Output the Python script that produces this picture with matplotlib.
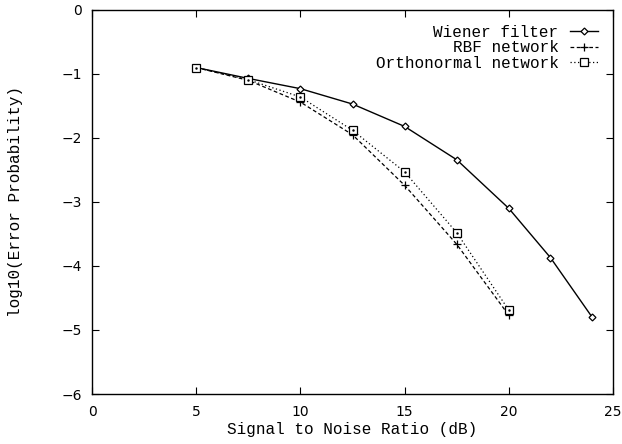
import matplotlib
matplotlib.use('Agg')
import matplotlib.pyplot as plt

# SNR (dB) values and log10 error probabilities
snr_wiener = [5, 7.5, 10, 12.5, 15, 17.5, 20, 22, 24]
err_wiener = [-0.90, -1.07, -1.23, -1.47, -1.82, -2.34, -3.10, -3.87, -4.80]

snr_net = [5, 7.5, 10, 12.5, 15, 17.5, 20]
err_rbf = [-0.90, -1.10, -1.44, -1.95, -2.74, -3.66, -4.77]
err_ortho = [-0.90, -1.09, -1.36, -1.88, -2.53, -3.48, -4.69]

x_ticks = [0, 5, 10, 15, 20, 25]
y_ticks = [0, -1, -2, -3, -4, -5, -6]

mono = 'Liberation Mono'

fig = plt.figure(figsize=(6.22, 4.44), dpi=100)
ax = fig.add_axes([0.148, 0.1126, 0.8375, 0.865])

ax.plot(snr_wiener, err_wiener, color='black', lw=1.0, linestyle='-',
        marker='D', markersize=3.5, markerfacecolor='white',
        markeredgewidth=0.9, label='Wiener filter')
ax.plot(snr_net, err_rbf, color='black', lw=0.9, linestyle=(0, (3, 2)),
        marker='+', markersize=6, markeredgewidth=0.9, label='RBF network')
ax.plot(snr_net, err_ortho, color='black', lw=0.9, linestyle=(0, (1, 2)),
        marker='s', markersize=6, markerfacecolor='white',
        markeredgewidth=0.9, label='Orthonormal network')
ax.plot(snr_net, err_ortho, linestyle='none', marker='.', markersize=1.5,
        color='black')

ax.set_xlim(0, 25)
ax.set_ylim(-6, 0)
ax.set_xticks(x_ticks)
ax.set_yticks(y_ticks)
ax.tick_params(direction='in', length=5, width=0.8, top=True, right=True,
               labelsize=10, colors='black')
ax.tick_params(axis='x', pad=8)
ax.tick_params(axis='y', pad=7)
for s in ax.spines.values():
    s.set_linewidth(1.0)

ax.set_xlabel('Signal to Noise Ratio (dB)', fontfamily=mono, fontsize=11.5,
              labelpad=2)
ax.set_ylabel('log10(Error Probability)', fontfamily=mono, fontsize=11.5,
              labelpad=28)

leg = ax.legend(loc='upper right', bbox_to_anchor=(0.972, 0.962),
                frameon=False, markerfirst=False, numpoints=1,
                handlelength=1.75, handletextpad=0.75, labelspacing=0.04,
                borderpad=0, borderaxespad=0,
                prop={'family': mono, 'size': 11.5})
for t in leg.get_texts():
    t.set_ha('right')

fig.savefig('out.png', dpi=100)
